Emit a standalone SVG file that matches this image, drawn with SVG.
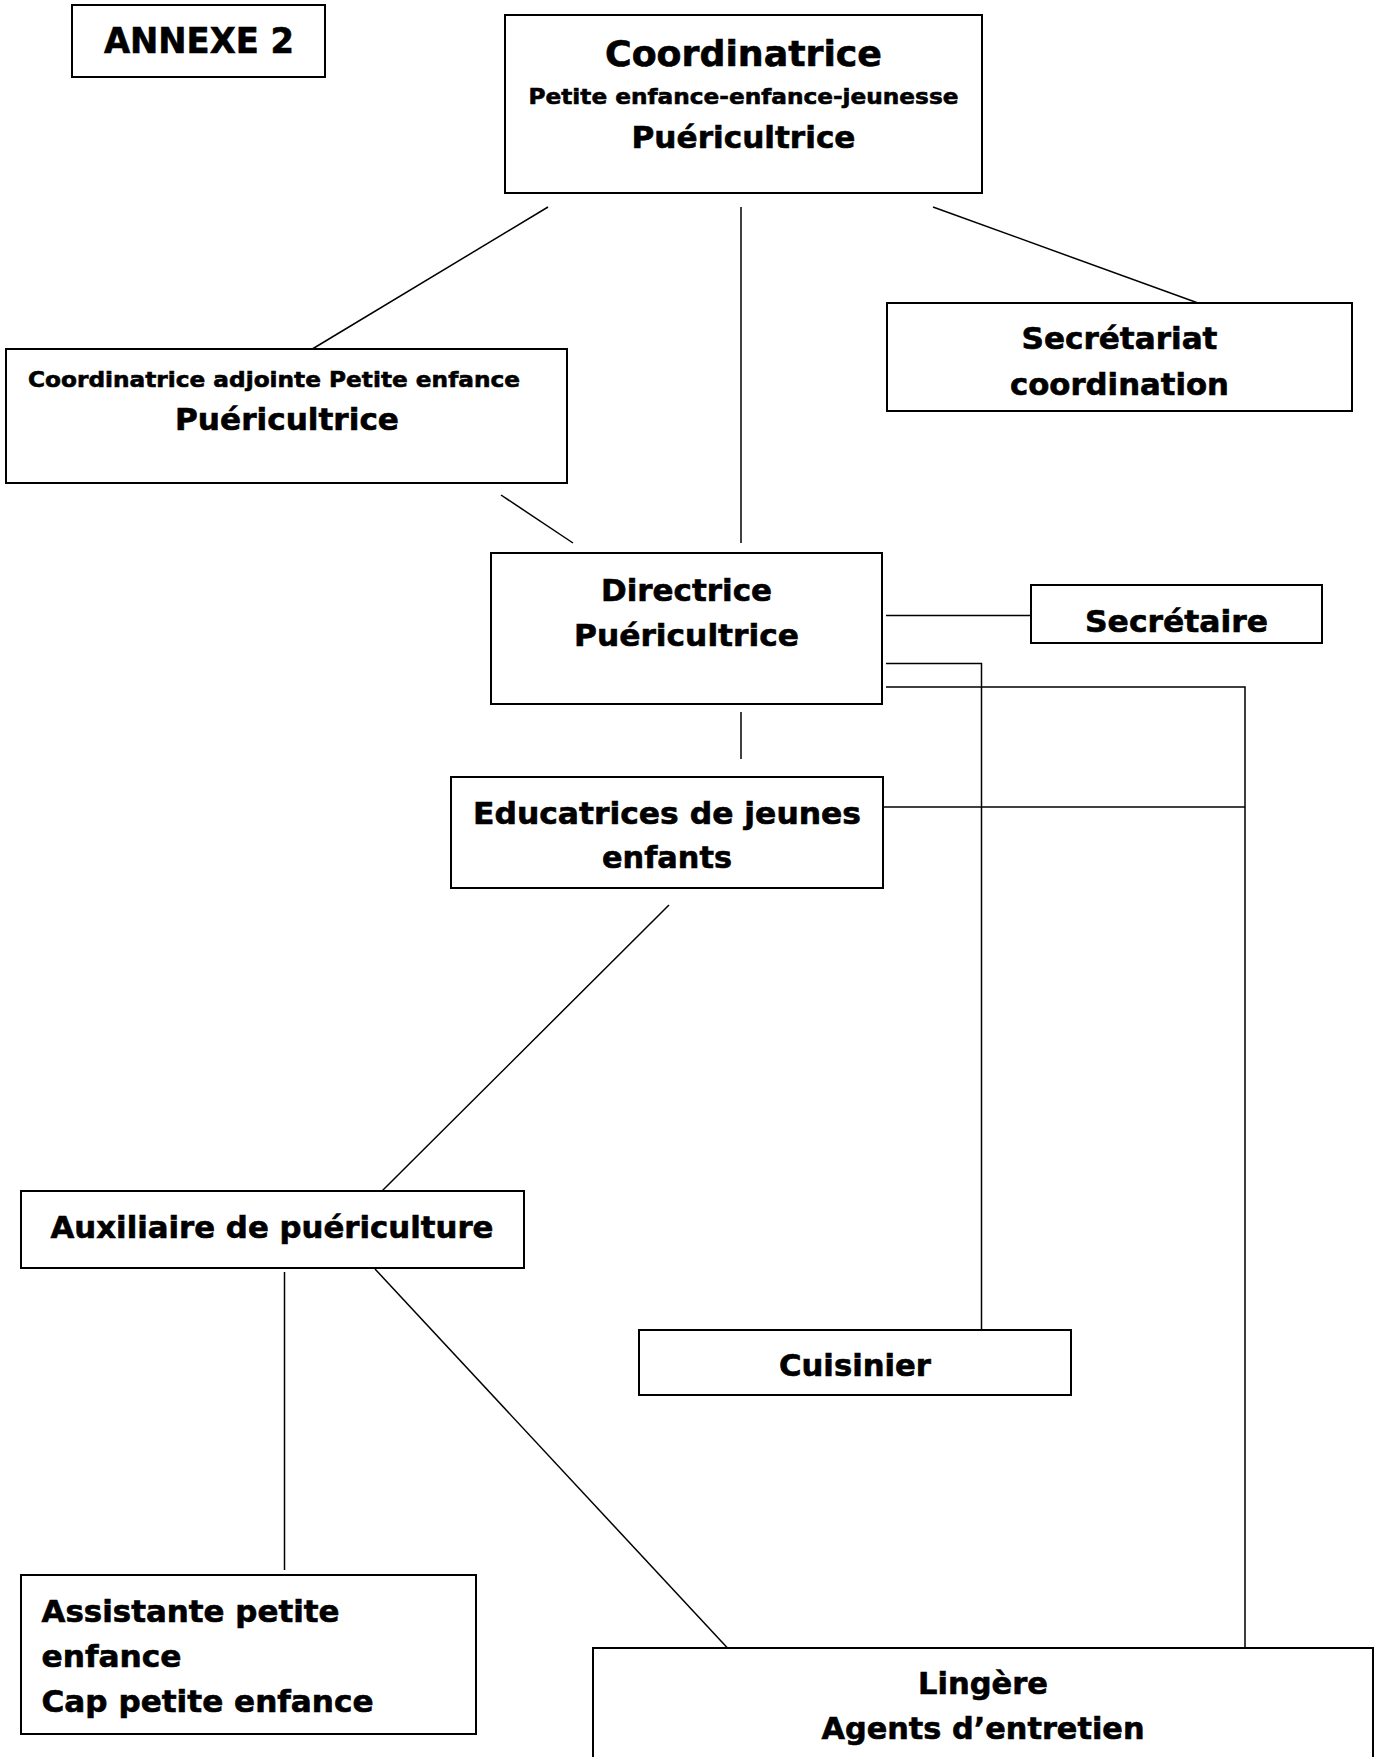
<svg xmlns="http://www.w3.org/2000/svg" width="1381" height="1757" viewBox="0 0 1381 1757">
<style>
.box{fill:#fff;stroke:#000;stroke-width:2}
.ln{stroke:#000;stroke-width:1.5;fill:none}
text{font-family:"DejaVu Sans","Liberation Sans",sans-serif;font-weight:bold;fill:#000;stroke:#000;stroke-width:0.6}
.c{text-anchor:middle}
</style>
<rect width="1381" height="1757" fill="#fff"/>
<g id="connectors">
<line class="ln" x1="548" y1="207" x2="309" y2="351"/>
<line class="ln" x1="741" y1="207" x2="741" y2="543"/>
<line class="ln" x1="933" y1="207" x2="1198" y2="303"/>
<line class="ln" x1="501" y1="495" x2="573" y2="543"/>
<line class="ln" x1="886" y1="615.5" x2="1030" y2="615.5"/>
<polyline class="ln" points="886,663.5 981.5,663.5 981.5,1335"/>
<polyline class="ln" points="886,687 1245,687 1245,1648"/>
<line class="ln" x1="884" y1="807" x2="1245" y2="807"/>
<line class="ln" x1="741" y1="712" x2="741" y2="759"/>
<line class="ln" x1="669" y1="905" x2="382" y2="1191"/>
<line class="ln" x1="284.5" y1="1272" x2="284.5" y2="1570"/>
<line class="ln" x1="375" y1="1269" x2="727.5" y2="1648"/>
</g>
<g id="annexe">
<rect class="box" x="72" y="5" width="253" height="72"/>
<text class="c" x="199" y="53" font-size="35" textLength="190" lengthAdjust="spacingAndGlyphs">ANNEXE 2</text>
</g>
<g id="coordinatrice">
<rect class="box" x="505" y="15" width="477" height="178"/>
<text class="c" x="743.5" y="66" font-size="35" textLength="277" lengthAdjust="spacingAndGlyphs">Coordinatrice</text>
<text class="c" x="743.5" y="104" font-size="22" textLength="430" lengthAdjust="spacingAndGlyphs">Petite enfance-enfance-jeunesse</text>
<text class="c" x="743.5" y="148" font-size="30" textLength="224" lengthAdjust="spacingAndGlyphs">Puéricultrice</text>
</g>
<g id="adjointe">
<rect class="box" x="6" y="349" width="561" height="134"/>
<text x="28" y="387" font-size="22" textLength="492" lengthAdjust="spacingAndGlyphs">Coordinatrice adjointe Petite enfance</text>
<text class="c" x="287" y="430" font-size="30" textLength="224" lengthAdjust="spacingAndGlyphs">Puéricultrice</text>
</g>
<g id="secretariat">
<rect class="box" x="887" y="303" width="465" height="108"/>
<text class="c" x="1119.5" y="349" font-size="30" textLength="196" lengthAdjust="spacingAndGlyphs">Secrétariat</text>
<text class="c" x="1119.5" y="395" font-size="30" textLength="219" lengthAdjust="spacingAndGlyphs">coordination</text>
</g>
<g id="directrice">
<rect class="box" x="491" y="553" width="391" height="151"/>
<text class="c" x="686.5" y="601" font-size="30" textLength="171" lengthAdjust="spacingAndGlyphs">Directrice</text>
<text class="c" x="686.5" y="646" font-size="30" textLength="225" lengthAdjust="spacingAndGlyphs">Puéricultrice</text>
</g>
<g id="secretaire">
<rect class="box" x="1031" y="585" width="291" height="58"/>
<text class="c" x="1176.5" y="632" font-size="30" textLength="183" lengthAdjust="spacingAndGlyphs">Secrétaire</text>
</g>
<g id="educatrices">
<rect class="box" x="451" y="777" width="432" height="111"/>
<text class="c" x="667" y="824" font-size="30" textLength="388" lengthAdjust="spacingAndGlyphs">Educatrices de jeunes</text>
<text class="c" x="667" y="868" font-size="30" textLength="130" lengthAdjust="spacingAndGlyphs">enfants</text>
</g>
<g id="auxiliaire">
<rect class="box" x="21" y="1191" width="503" height="77"/>
<text class="c" x="272" y="1238" font-size="30" textLength="443" lengthAdjust="spacingAndGlyphs">Auxiliaire de puériculture</text>
</g>
<g id="cuisinier">
<rect class="box" x="639" y="1330" width="432" height="65"/>
<text class="c" x="855" y="1376" font-size="30" textLength="152" lengthAdjust="spacingAndGlyphs">Cuisinier</text>
</g>
<g id="assistante">
<rect class="box" x="21" y="1575" width="455" height="159"/>
<text x="41.5" y="1622" font-size="30" textLength="298" lengthAdjust="spacingAndGlyphs">Assistante petite</text>
<text x="41.5" y="1667" font-size="30" textLength="140" lengthAdjust="spacingAndGlyphs">enfance</text>
<text x="41.5" y="1712" font-size="30" textLength="332" lengthAdjust="spacingAndGlyphs">Cap petite enfance</text>
</g>
<g id="lingere">
<rect class="box" x="593" y="1648" width="780" height="130"/>
<text class="c" x="983" y="1694" font-size="30" textLength="130" lengthAdjust="spacingAndGlyphs">Lingère</text>
<text class="c" x="983" y="1739" font-size="30" textLength="323" lengthAdjust="spacingAndGlyphs">Agents d’entretien</text>
</g>
</svg>
